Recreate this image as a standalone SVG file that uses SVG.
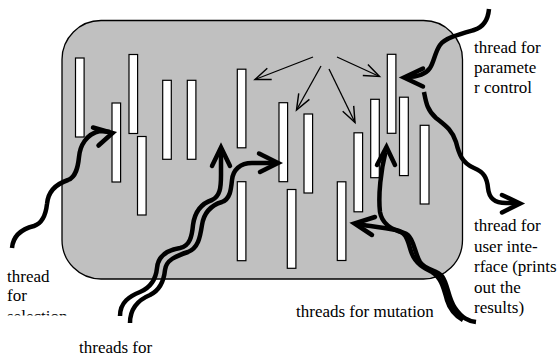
<svg xmlns="http://www.w3.org/2000/svg" width="560" height="357" viewBox="0 0 560 357">
<style>
.t{font-family:"Liberation Serif","DejaVu Serif","Times New Roman",serif;font-size:17px;fill:#000}
.bar{fill:#fff;stroke:#000;stroke-width:1.2}
.thin{fill:none;stroke:#000;stroke-width:1.3}
.thick{fill:none;stroke:#000;stroke-width:4.5;stroke-linecap:butt;stroke-linejoin:round}
.head{fill:none;stroke:#000;stroke-width:4.5;stroke-linecap:round;stroke-linejoin:miter}
</style>
<defs>
<marker id="open" markerUnits="userSpaceOnUse" markerWidth="20" markerHeight="20" refX="0" refY="0" viewBox="-16 -8 18 16" orient="auto" overflow="visible">
<path d="M-14,-5.5 L0,0 L-14,5.5" fill="none" stroke="#000" stroke-width="1.3"/>
</marker>
<clipPath id="cut"><rect x="0" y="300" width="120" height="15.6"/></clipPath>
</defs>
<g id="process">
<rect x="62" y="20.5" width="400.5" height="258.5" rx="39" ry="39" fill="#c0c0c0" stroke="#000" stroke-width="1.3"/>
</g>
<g id="threads-bars">
<rect class="bar" x="75.5" y="58" width="8.6" height="79"/>
<rect class="bar" x="112" y="103" width="8.6" height="79"/>
<rect class="bar" x="129" y="54.5" width="8.6" height="79"/>
<rect class="bar" x="137.5" y="136.5" width="8.6" height="78.5"/>
<rect class="bar" x="162.7" y="80.3" width="8.6" height="79"/>
<rect class="bar" x="187.3" y="80.3" width="8.6" height="79"/>
<rect class="bar" x="237.3" y="69.2" width="8.6" height="78.6"/>
<rect class="bar" x="279" y="102.7" width="8.6" height="79"/>
<rect class="bar" x="304" y="114" width="8.6" height="79"/>
<rect class="bar" x="354" y="132.8" width="8.6" height="79"/>
<rect class="bar" x="370.7" y="99.3" width="8.6" height="78.4"/>
<rect class="bar" x="387.3" y="54.3" width="8.6" height="79"/>
<rect class="bar" x="399.5" y="97.2" width="8.8" height="78.4"/>
<rect class="bar" x="420.2" y="125.3" width="8.8" height="78.7"/>
<rect class="bar" x="237.3" y="181.7" width="8.6" height="79"/>
<rect class="bar" x="287.3" y="189.5" width="8.6" height="78.8"/>
<rect class="bar" x="337.3" y="181.8" width="8.6" height="78.7"/>
</g>
<g id="connectors">
<line class="thin" x1="313" y1="57" x2="255" y2="79.5" marker-end="url(#open)"/>
<line class="thin" x1="321" y1="66" x2="296.5" y2="110" marker-end="url(#open)"/>
<line class="thin" x1="329" y1="69" x2="355" y2="122.5" marker-end="url(#open)"/>
<line class="thin" x1="337" y1="57" x2="379.5" y2="76.5" marker-end="url(#open)"/>
<g id="thread-selection">
<path class="thick" d="M12,248 C13,236 22,229 34,226 C43,223 46,213 47,204 C48,192 56,184 68,180 C76,177 78,167 79,157 C80,146 86,134 100,131 L110,132"/>
<polyline class="head" points="93,127.5 112.5,133 98.5,145.5"/>
</g>
<g id="thread-generation">
<path class="thick" d="M120,316 C120,302 130,296 140,292 C152,287 156,278 157,268 C158,256 168,250 180,248 C190,246 192,236 193,225 C195,210 203,203 212,200 C220,196 221,188 221,175 L221,150"/>
<polyline class="head" points="212,166 221,147.5 230,166"/>
<path class="thick" d="M130,323 C130,308 138,300 150,295 C160,290 164,280 165,270 C166,260 176,256 188,252 C198,248 200,238 202,225 C204,212 212,205 222,202 C230,199 231,190 232,180 C233,170 240,163 252,163 L276,163"/>
<polyline class="head" points="259,153.5 278,163 260,172"/>
</g>
<g id="thread-parameter">
<path class="thick" d="M489,9 C488,20 484,27 474,30 C460,34 445,38 440,45 C435,52 434,62 430,68 C426,74 418,77 406,77"/>
<polyline class="head" points="423,68.5 404,77.5 423,86.5"/>
</g>
<g id="thread-ui">
<path class="thick" d="M424,92 C426,102 427,110 436,118 C446,126 452,130 456,142 C459,154 462,163 474,168 C484,172 487,178 488,188 C489,198 494,203 506,203 L518,203"/>
<polyline class="head" points="502,195 520,203.5 502,212.5"/>
</g>
<g id="thread-mutation">
<path class="thick" d="M385.5,152 C381,170 378,195 380,212 C382,224 392,230 404,233 C414,236 414,252 420,262 C426,270 436,270 442,276 C448,284 448,298 455,308 C462,318 468,321 476,322"/>
<polyline class="head" points="377,165 386.5,147 395,165"/>
<path class="thick" d="M357,224 C370,226 385,228 396,230 C408,232 408,244 412,254 C416,264 424,268 432,272 C442,278 444,290 447,300 C450,310 456,316 463,320"/>
<polyline class="head" points="375,217 354.5,223.5 372,235"/>
</g>
</g>
<g id="labels" font-family="'Liberation Serif', 'DejaVu Serif', serif" font-size="17">
<text class="t" x="7" y="282">thread</text>
<text class="t" x="7" y="301">for</text>
<text class="t" x="7" y="321.5" clip-path="url(#cut)">selection</text>
<text class="t" x="79" y="353">threads for</text>
<text class="t" x="296" y="317">threads for mutation</text>
<text class="t" x="474" y="53">thread for</text>
<text class="t" x="474" y="73">paramete</text>
<text class="t" x="474" y="93">r control</text>
<text class="t" x="474" y="231">thread for</text>
<text class="t" x="474" y="252">user inte-</text>
<text class="t" x="474" y="272">rface (prints</text>
<text class="t" x="474" y="293">out the</text>
<text class="t" x="474" y="313">results)</text>
</g>
</svg>
